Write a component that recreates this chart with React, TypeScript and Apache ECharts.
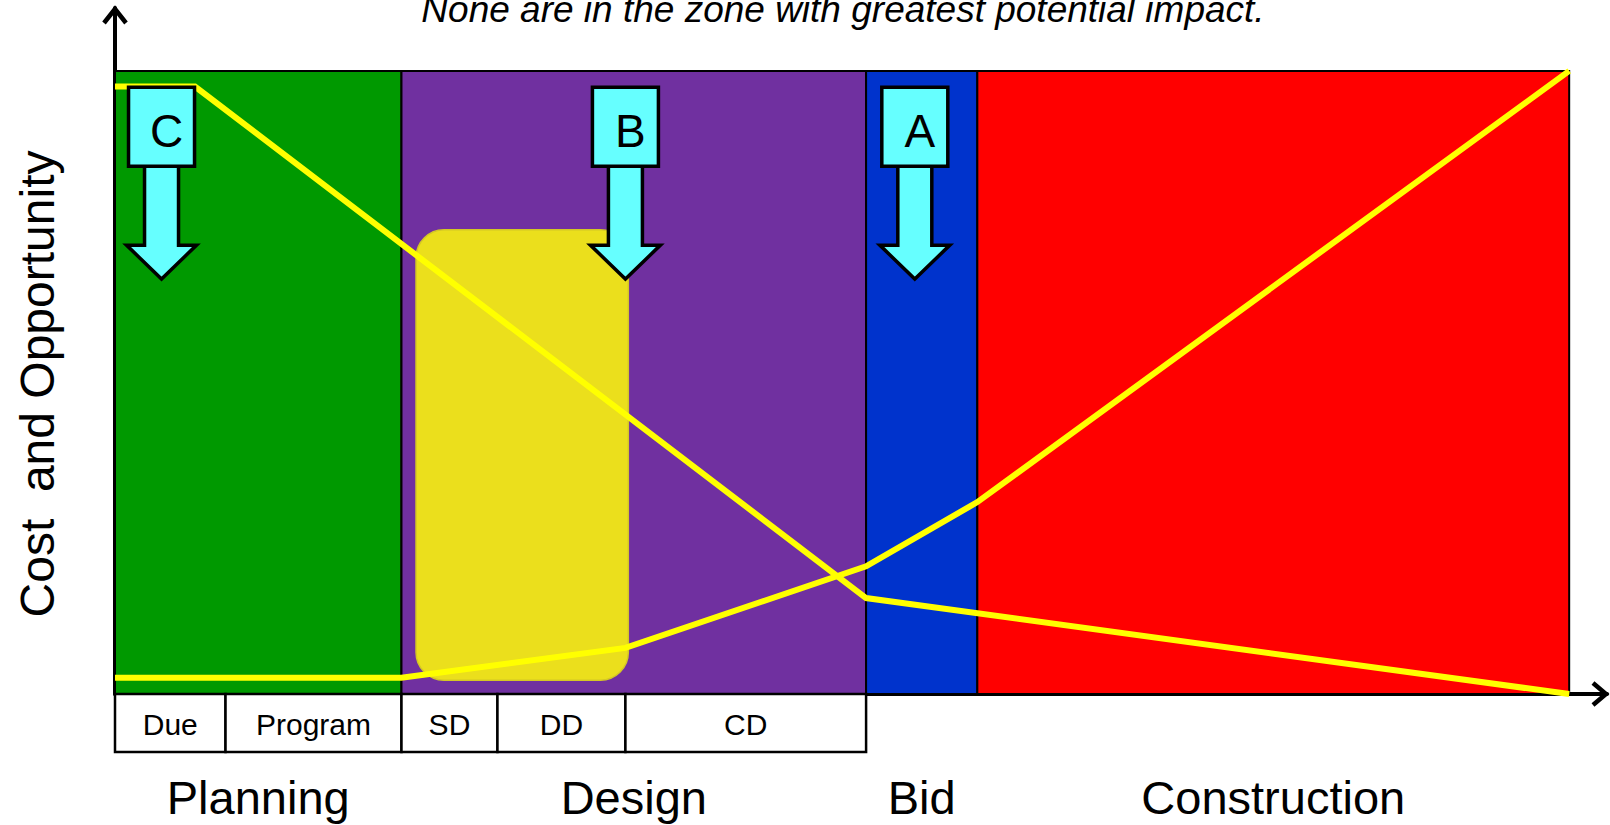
import React, { useEffect, useRef } from "react";
import * as echarts from "echarts";

// ---- data (x in % of the time span, y in % of the cost/opportunity scale) ----
const phaseNames = ["Planning", "Design", "Bid", "Construction"];
const phaseBounds = [0, 19.7, 51.65, 59.3, 100];
const phaseColors = ["#009900", "#7030A0", "#0033CC", "#FF0000"];

const subPhaseNames = ["Due", "Program", "SD", "DD", "CD"];
const subPhaseBounds = [0, 7.6, 19.7, 26.3, 35.1, 51.65];

const opportunityX = [0, 5.5, 51.65, 100];
const opportunityY = [97.5, 97.5, 15.4, 0];

const costX = [0, 19.7, 35.1, 51.65, 59.3, 100];
const costY = [2.6, 2.6, 7.4, 20.5, 30.8, 100];

const calloutLabels = ["C", "B", "A"];
const calloutX = [3.2, 35.1, 55.0];
const calloutTopY = 97.4;

const zoneX = [20.7, 35.3];
const zoneY = [74.5, 2.2];

const titleText = "None are in the zone with greatest potential impact.";
const yLabel = "Cost  and Opportunity";

const FONT = '"Liberation Sans", Arial, Helvetica, sans-serif';
const X_MAX = 102.6;
const Y_MAX = 110.1;

export default function App() {
  const ref = useRef<HTMLDivElement>(null);

  useEffect(() => {
    if (!ref.current) return;
    const chart = echarts.init(ref.current, null, { renderer: "svg" });

    const hiddenAxis = (gridIndex: number, max: number) => ({
      type: "value",
      gridIndex,
      min: 0,
      max,
      show: false,
    });

    const bandData = phaseNames.map((n, i) => [
      {
        xAxis: phaseBounds[i],
        yAxis: 0,
        itemStyle: { color: phaseColors[i], borderColor: "#000", borderWidth: 2 },
      },
      { xAxis: phaseBounds[i + 1], yAxis: 100 },
    ]);

    const cellData = subPhaseNames.map((n, i) => [
      { name: n, xAxis: subPhaseBounds[i], yAxis: 0 },
      { xAxis: subPhaseBounds[i + 1], yAxis: 1 },
    ]);

    const nameData = phaseNames.map((n, i) => [
      { name: n, xAxis: phaseBounds[i], yAxis: 0 },
      { xAxis: phaseBounds[i + 1], yAxis: 1 },
    ]);

    chart.setOption({
      animation: false,
      grid: [
        { left: 115, right: 3, top: 8, bottom: 131 },
        { left: 115, right: 3, top: 694, height: 58 },
        { left: 115, right: 3, top: 772, height: 50 },
      ],
      xAxis: [
        {
          type: "value",
          gridIndex: 0,
          min: 0,
          max: X_MAX,
          axisLine: { show: true, lineStyle: { color: "#000", width: 4 } },
          axisTick: { show: false },
          axisLabel: { show: false },
          splitLine: { show: false },
        },
        hiddenAxis(1, X_MAX),
        hiddenAxis(2, X_MAX),
      ],
      yAxis: [
        {
          type: "value",
          gridIndex: 0,
          min: 0,
          max: Y_MAX,
          axisLine: { show: true, lineStyle: { color: "#000", width: 4 } },
          axisTick: { show: false },
          axisLabel: { show: false },
          splitLine: { show: false },
        },
        hiddenAxis(1, 1),
        hiddenAxis(2, 1),
      ],
      series: [
        {
          type: "line",
          xAxisIndex: 0,
          yAxisIndex: 0,
          data: [],
          z: 1,
          markArea: { silent: true, z: 1, data: bandData },
        },
        {
          name: "Opportunity",
          type: "line",
          xAxisIndex: 0,
          yAxisIndex: 0,
          z: 5,
          symbol: "none",
          lineStyle: { color: "#FFFF00", width: 6, join: "miter" },
          data: opportunityX.map((x, i) => [x, opportunityY[i]]),
        },
        {
          name: "Cost",
          type: "line",
          xAxisIndex: 0,
          yAxisIndex: 0,
          z: 5,
          symbol: "none",
          lineStyle: { color: "#FFFF00", width: 6, join: "miter" },
          data: costX.map((x, i) => [x, costY[i]]),
        },
        {
          type: "line",
          xAxisIndex: 1,
          yAxisIndex: 1,
          data: [],
          markArea: {
            silent: true,
            itemStyle: { color: "#FFFFFF", borderColor: "#000", borderWidth: 2.5 },
            label: {
              show: true,
              position: "inside",
              color: "#000",
              fontSize: 30,
              fontFamily: FONT,
              offset: [0, 1],
            },
            data: cellData,
          },
        },
        {
          type: "line",
          xAxisIndex: 2,
          yAxisIndex: 2,
          data: [],
          markArea: {
            silent: true,
            itemStyle: { color: "rgba(0,0,0,0)", borderWidth: 0 },
            label: {
              show: true,
              position: "inside",
              color: "#000",
              fontSize: 47,
              fontFamily: FONT,
            },
            data: nameData,
          },
        },
      ],
    });

    const px = (x: number, y: number) =>
      chart.convertToPixel({ gridIndex: 0 }, [x, y]) as number[];

    const graphics: any[] = [];

    // highlighted zone (rounded rectangle)
    const z0 = px(zoneX[0], zoneY[0]);
    const z1 = px(zoneX[1], zoneY[1]);
    graphics.push({
      type: "rect",
      z: 3,
      shape: { x: z0[0], y: z0[1], width: z1[0] - z0[0], height: z1[1] - z0[1], r: 28 },
      style: { fill: "#EBDF1C", stroke: "#D4C824", lineWidth: 1.5 },
    });

    // callouts
    calloutLabels.forEach((lab, i) => {
      const [cx, top] = px(calloutX[i], calloutTopY);
      const boxW = 66;
      const boxH = 79;
      const shaftW = 34;
      const headW = 70;
      const shaftLen = 79;
      const headLen = 34;
      const bb = top + boxH;
      const ht = bb + shaftLen;
      graphics.push({
        type: "polygon",
        z: 10,
        shape: {
          points: [
            [cx - shaftW / 2, bb - 2],
            [cx - shaftW / 2, ht],
            [cx - headW / 2, ht],
            [cx, ht + headLen],
            [cx + headW / 2, ht],
            [cx + shaftW / 2, ht],
            [cx + shaftW / 2, bb - 2],
          ],
        },
        style: { fill: "#66FFFF", stroke: "#000", lineWidth: 3.5, lineJoin: "miter" },
      });
      graphics.push({
        type: "rect",
        z: 11,
        shape: { x: cx - boxW / 2, y: top, width: boxW, height: boxH },
        style: { fill: "#66FFFF", stroke: "#000", lineWidth: 3.5 },
      });
      graphics.push({
        type: "text",
        z: 12,
        x: cx + 5,
        y: top + 44,
        style: {
          text: lab,
          fill: "#000",
          fontSize: 46,
          fontFamily: FONT,
          align: "center",
          verticalAlign: "middle",
        },
      });
    });

    // axis arrow heads
    const origin = px(0, 0);
    const yTop = px(0, Y_MAX);
    const xEnd = px(X_MAX, 0);
    graphics.push({
      type: "polyline",
      z: 20,
      shape: {
        points: [
          [yTop[0] - 11, yTop[1] + 15],
          [yTop[0], yTop[1] + 1],
          [yTop[0] + 11, yTop[1] + 15],
        ],
      },
      style: { stroke: "#000", lineWidth: 4.5, fill: null, lineJoin: "miter" },
    });
    graphics.push({
      type: "polyline",
      z: 20,
      shape: {
        points: [
          [xEnd[0] - 14, origin[1] - 11],
          [xEnd[0] - 1, origin[1]],
          [xEnd[0] - 14, origin[1] + 11],
        ],
      },
      style: { stroke: "#000", lineWidth: 4.5, fill: null, lineJoin: "miter" },
    });

    // title
    graphics.push({
      type: "text",
      z: 20,
      x: 843,
      y: 9,
      style: {
        text: titleText,
        fill: "#000",
        fontSize: 37,
        fontStyle: "italic",
        fontFamily: FONT,
        align: "center",
        verticalAlign: "middle",
      },
    });

    // y axis title
    graphics.push({
      type: "text",
      z: 20,
      x: 37,
      y: 384,
      rotation: Math.PI / 2,
      style: {
        text: yLabel,
        fill: "#000",
        fontSize: 48,
        fontFamily: FONT,
        align: "center",
        verticalAlign: "middle",
      },
    });

    chart.setOption({ graphic: { elements: graphics } });

    return () => chart.dispose();
  }, []);

  return (
    <div
      ref={ref}
      style={{ position: "fixed", left: 0, top: 0, width: 1610, height: 825, background: "#fff" }}
    />
  );
}
